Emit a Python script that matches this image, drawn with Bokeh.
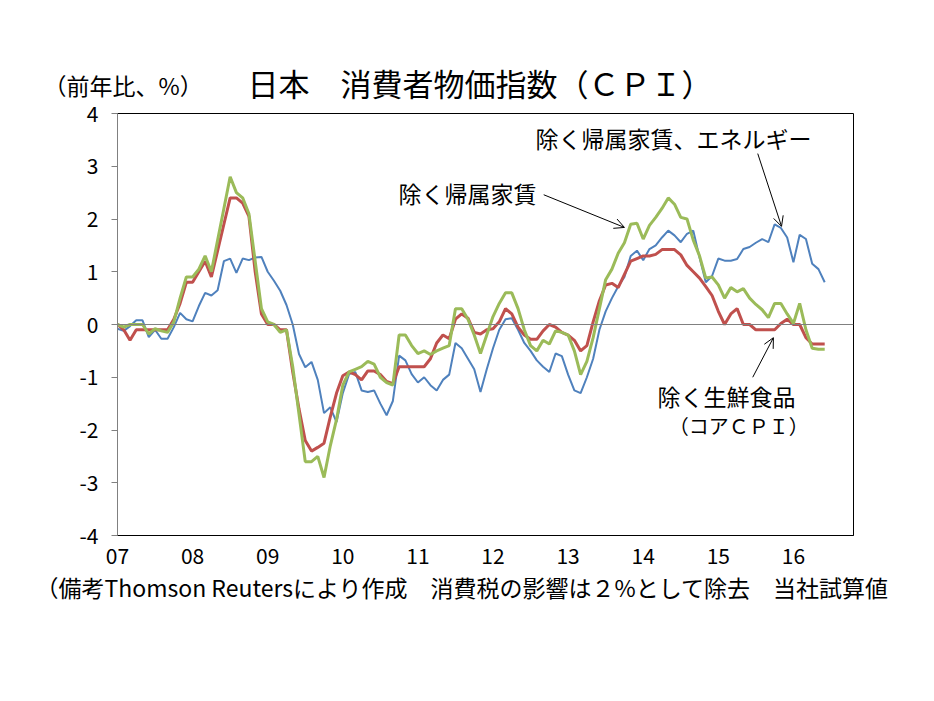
from bokeh.plotting import figure
from bokeh.layouts import column
from bokeh.models import Range1d, FixedTicker, Span, Label, Arrow, OpenHead
from bokeh.embed import file_html
from bokeh.resources import INLINE

# ---- data (year-on-year %, monthly, Jan 2007 - Jun 2016) ----
year_labels = ["07", "08", "09", "10", "11", "12", "13", "14", "15", "16"]

core_cpi = [  # 除く生鮮食品（コアCPI）
    0.0, -0.1, -0.3, -0.1, -0.1, -0.1, -0.1, -0.1, -0.1, 0.1, 0.4, 0.8,
    0.8, 1.0, 1.2, 0.9, 1.4, 1.9, 2.4, 2.4, 2.3, 2.05, 1.0, 0.2,
    0.0, 0.0, -0.1, -0.1, -0.9, -1.6, -2.2, -2.4, -2.33, -2.25, -1.75, -1.3,
    -0.97, -0.9, -0.95, -1.05, -0.88, -0.88, -0.95, -1.08, -1.12, -0.8, -0.8, -0.8,
    -0.8, -0.8, -0.65, -0.35, -0.2, -0.27, 0.1, 0.2, 0.12, -0.15, -0.18, -0.1,
    -0.08, 0.05, 0.3, 0.2, -0.05, -0.2, -0.28, -0.28, -0.12, 0.0, -0.05, -0.15,
    -0.2, -0.3, -0.5, -0.4, 0.05, 0.45, 0.75, 0.78, 0.7, 0.95, 1.2, 1.25,
    1.3, 1.3, 1.33, 1.42, 1.42, 1.42, 1.32, 1.12, 1.0, 0.88, 0.72, 0.55,
    0.25, 0.0, 0.2, 0.3, 0.0, 0.0, -0.1, -0.1, -0.1, -0.1, 0.02, 0.1,
    0.0, 0.0, -0.25, -0.37, -0.37, -0.37,
]

ex_rent = [  # 除く帰属家賃
    0.0, -0.05, 0.0, 0.0, 0.0, -0.18, -0.08, -0.12, -0.15, 0.05, 0.5, 0.9,
    0.9, 1.05, 1.3, 1.0, 1.6, 2.2, 2.8, 2.5, 2.4, 2.1, 1.2, 0.3,
    0.05, 0.0, -0.15, -0.1, -0.8, -1.7, -2.6, -2.6, -2.5, -2.9, -2.3, -1.8,
    -1.15, -0.9, -0.85, -0.8, -0.7, -0.75, -1.0, -1.1, -1.15, -0.2, -0.2, -0.4,
    -0.55, -0.5, -0.57, -0.5, -0.45, -0.4, 0.3, 0.3, 0.1, -0.2, -0.55, -0.2,
    0.15, 0.4, 0.6, 0.6, 0.3, -0.1, -0.4, -0.5, -0.3, -0.37, -0.12, -0.15,
    -0.2, -0.5, -0.95, -0.7, -0.25, 0.3, 0.85, 1.05, 1.35, 1.55, 1.9, 1.92,
    1.62, 1.88, 2.03, 2.2, 2.4, 2.28, 2.03, 2.0, 1.6, 1.3, 0.88, 0.9,
    0.75, 0.5, 0.7, 0.62, 0.68, 0.5, 0.38, 0.28, 0.13, 0.4, 0.4, 0.2,
    0.02, 0.4, -0.1, -0.45, -0.47, -0.47,
]

ex_rent_energy = [  # 除く帰属家賃、エネルギー
    -0.08, -0.12, -0.03, 0.08, 0.08, -0.24, -0.1, -0.27, -0.27, -0.05, 0.22, 0.1,
    0.06, 0.35, 0.6, 0.55, 0.65, 1.2, 1.25, 0.98, 1.25, 1.22, 1.27, 1.28,
    1.0, 0.83, 0.64, 0.37, 0.0, -0.56, -0.81, -0.71, -1.05, -1.68, -1.57, -1.85,
    -1.3, -0.94, -0.9, -1.25, -1.28, -1.25, -1.5, -1.72, -1.45, -0.59, -0.68, -0.94,
    -1.1, -1.0, -1.15, -1.25, -1.05, -0.95, -0.35, -0.45, -0.65, -0.85, -1.28, -0.85,
    -0.45, -0.1, 0.1, 0.12, -0.1, -0.35, -0.5, -0.68, -0.8, -0.9, -0.55, -0.6,
    -0.95, -1.25, -1.3, -1.0, -0.65, -0.1, 0.25, 0.5, 0.72, 0.9, 1.3, 1.4,
    1.22, 1.43, 1.5, 1.65, 1.78, 1.69, 1.56, 1.72, 1.78, 1.27, 0.8, 0.92,
    1.25, 1.21, 1.21, 1.24, 1.43, 1.47, 1.55, 1.62, 1.56, 1.9, 1.83, 1.65,
    1.18, 1.7, 1.62, 1.15, 1.05, 0.8,
]

y_ticks = [-4, -3, -2, -1, 0, 1, 2, 3, 4]

months = list(range(len(core_cpi)))
year_ticks = [12 * k for k in range(len(year_labels))]

FONT = "Noto Sans CJK JP"
W = 934
H_HEAD, OVERLAP = 112, 14          # header strip overlaps the chart canvas by 14 px
H_MAIN, H_FOOT = 473, 130          # 112 - 14 + 473 + 130 = 701
MAIN_TOP = H_HEAD - OVERLAP        # page y where the chart canvas starts


def no_align(fig):
    try:
        fig.frame_align = False
    except Exception:
        pass


def text_strip(height):
    """A blank figure whose frame fills the canvas; data units = pixels from top-left."""
    f = figure(width=W, height=height, output_backend="svg", toolbar_location=None,
               x_range=Range1d(0, W), y_range=Range1d(height, 0),
               x_axis_location=None, y_axis_location=None,
               min_border=0, min_border_left=0, min_border_right=0,
               min_border_top=0, min_border_bottom=0)
    f.outline_line_color = None
    f.xgrid.visible = False
    f.ygrid.visible = False
    f.background_fill_color = "white"
    f.border_fill_color = "white"
    no_align(f)
    return f


def label(fig, x, y, txt, size):
    fig.add_layout(Label(x=x, y=y, text=txt, text_font=FONT, text_font_size=size,
                         text_align="left", text_baseline="middle", text_color="black"))


# ---- header ----
head = text_strip(H_HEAD)
head.margin = (0, 0, -OVERLAP, 0)
label(head, 247, 82, "日本　消費者物価指数（ＣＰＩ）", "31px")
label(head, 43, 84, "（前年比、%）", "23px")

# ---- main chart ----
p = figure(width=W, height=H_MAIN, output_backend="svg", toolbar_location=None,
           x_range=Range1d(0, 117.6), y_range=Range1d(-4, 4),
           min_border_left=117, min_border_right=81,
           min_border_top=113 - MAIN_TOP, min_border_bottom=MAIN_TOP + H_MAIN - 535)
no_align(p)
p.background_fill_color = "white"
p.border_fill_color = "white"
p.border_fill_alpha = 0.0
p.outline_line_color = "black"
p.outline_line_width = 1
p.xgrid.visible = False
p.ygrid.visible = False

p.yaxis.ticker = FixedTicker(ticks=y_ticks)
p.yaxis.major_label_overrides = {t: str(t) for t in y_ticks}
p.yaxis.major_tick_out = 6
p.yaxis.major_tick_in = 0
p.yaxis.minor_tick_out = 0
p.yaxis.minor_tick_in = 0
p.yaxis.axis_line_color = "#808080"
p.yaxis.major_tick_line_color = "#808080"
p.yaxis.major_label_standoff = 13
p.yaxis.major_label_text_font = FONT
p.yaxis.major_label_text_font_size = "21px"
p.yaxis.major_label_text_color = "black"

p.xaxis.ticker = FixedTicker(ticks=year_ticks)
p.xaxis.major_label_overrides = {t: l for t, l in zip(year_ticks, year_labels)}
p.xaxis.major_tick_out = 0
p.xaxis.major_tick_in = 0
p.xaxis.minor_tick_out = 0
p.xaxis.minor_tick_in = 0
p.xaxis.axis_line_color = "black"
p.xaxis.major_label_standoff = 12
p.xaxis.major_label_text_font = FONT
p.xaxis.major_label_text_font_size = "21px"
p.xaxis.major_label_text_color = "black"

p.add_layout(Span(location=0, dimension="width", line_color="#808080", line_width=1))

p.line(months, ex_rent_energy, line_color="#4F81BD", line_width=2)
p.line(months, core_cpi, line_color="#C0504D", line_width=3)
p.line(months, ex_rent, line_color="#9BBB59", line_width=3)

label(p, 66.8, 3.53, "除く帰属家賃、エネルギー", "23px")
label(p, 44.9, 2.50, "除く帰属家賃", "23px")
label(p, 86.3, -1.35, "除く生鮮食品", "23px")
label(p, 88.1, -1.91, "（コアＣＰＩ）", "20px")

for xs, ys, xe, ye in [(102.3, 3.24, 106.1, 1.86),
                       (68.1, 2.46, 81.0, 1.84),
                       (101.5, -1.0, 104.8, -0.25)]:
    p.add_layout(Arrow(end=OpenHead(size=10, line_color="black", line_width=1),
                       x_start=xs, y_start=ys, x_end=xe, y_end=ye,
                       line_color="black", line_width=1))

# ---- footer ----
foot = text_strip(H_FOOT)
label(foot, 35, 586 - (MAIN_TOP + H_MAIN),
      "（備考Thomson Reutersにより作成　消費税の影響は２%として除去　当社試算値", "23px")

layout = column(head, p, foot, spacing=0)
open("out.html", "w").write(file_html(layout, INLINE))
